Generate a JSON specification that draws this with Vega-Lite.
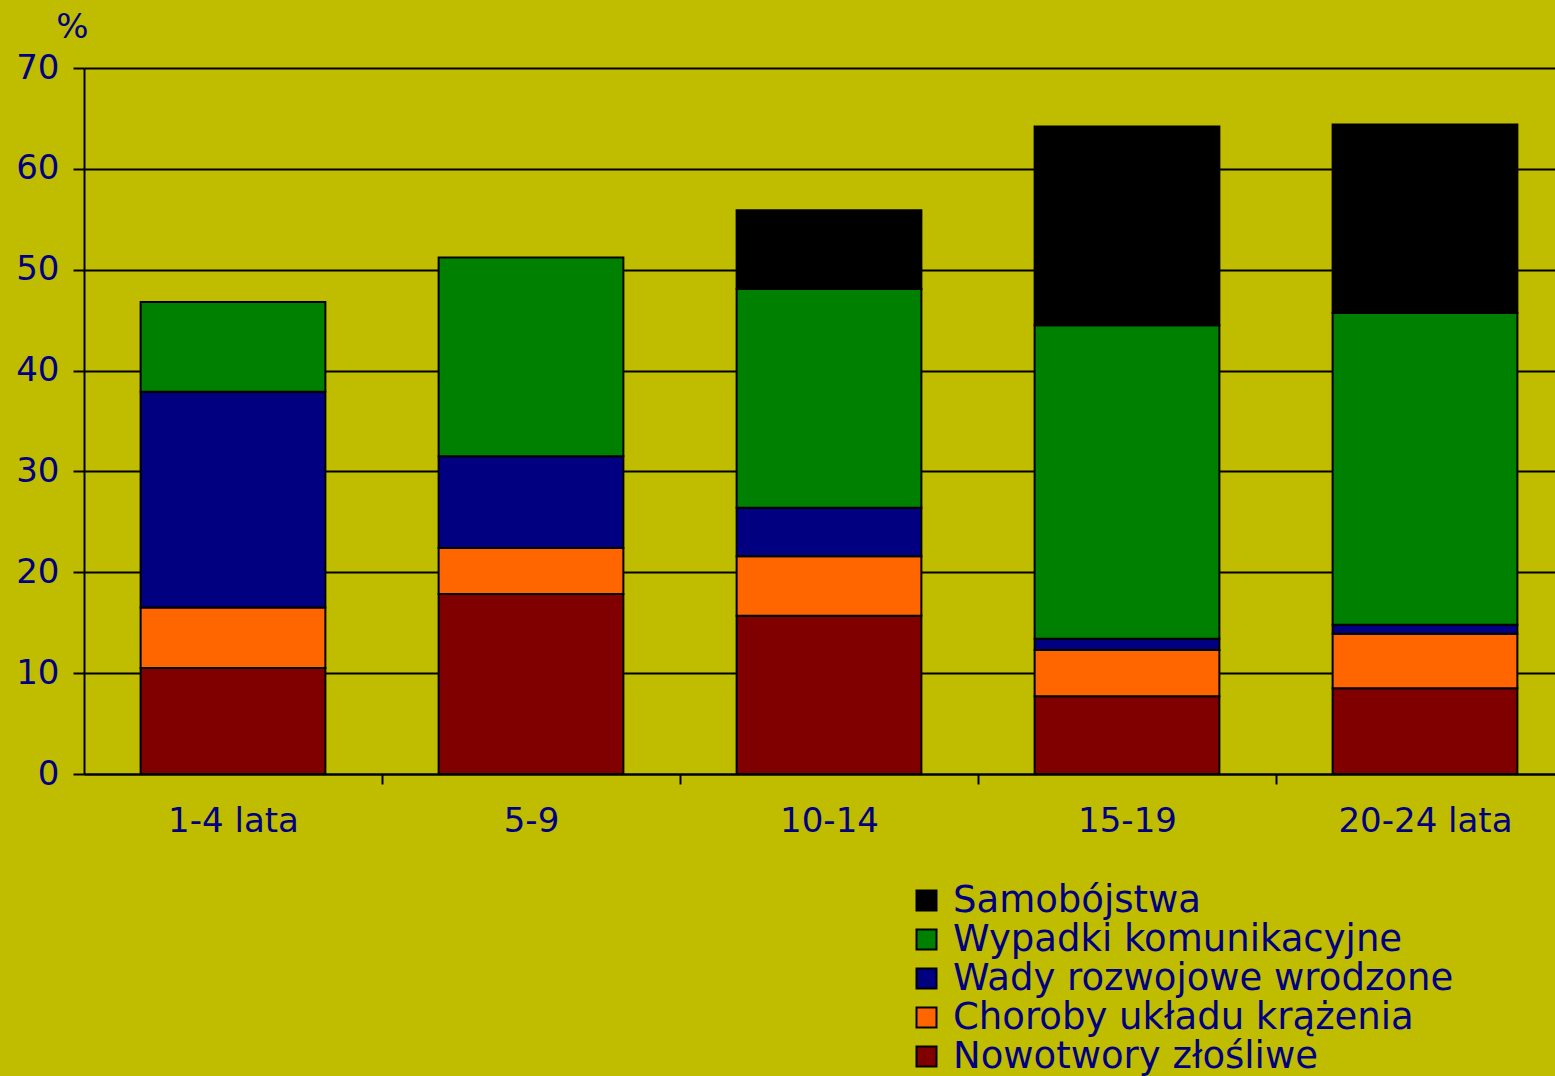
{
  "$schema": "https://vega.github.io/schema/vega-lite/v6.json",
  "autosize": {"type": "none"},
  "width": 1490,
  "height": 706,
  "padding": {"left": 84, "top": 68, "right": 0, "bottom": 302},
  "background": "#C0BC00",
  "config": {
    "view": {"stroke": null},
    "font": "DejaVu Sans"
  },
  "data": {
    "values": [
      {"wiek": "1-4 lata", "przyczyna": "Nowotwory złośliwe", "k": 1, "v": 10.5},
      {"wiek": "1-4 lata", "przyczyna": "Choroby układu krążenia", "k": 2, "v": 6.0},
      {"wiek": "1-4 lata", "przyczyna": "Wady rozwojowe wrodzone", "k": 3, "v": 21.4},
      {"wiek": "1-4 lata", "przyczyna": "Wypadki komunikacyjne", "k": 4, "v": 8.9},
      {"wiek": "5-9", "przyczyna": "Nowotwory złośliwe", "k": 1, "v": 17.85},
      {"wiek": "5-9", "przyczyna": "Choroby układu krążenia", "k": 2, "v": 4.55},
      {"wiek": "5-9", "przyczyna": "Wady rozwojowe wrodzone", "k": 3, "v": 9.1},
      {"wiek": "5-9", "przyczyna": "Wypadki komunikacyjne", "k": 4, "v": 19.7},
      {"wiek": "10-14", "przyczyna": "Nowotwory złośliwe", "k": 1, "v": 15.7},
      {"wiek": "10-14", "przyczyna": "Choroby układu krążenia", "k": 2, "v": 5.9},
      {"wiek": "10-14", "przyczyna": "Wady rozwojowe wrodzone", "k": 3, "v": 4.8},
      {"wiek": "10-14", "przyczyna": "Wypadki komunikacyjne", "k": 4, "v": 21.7},
      {"wiek": "10-14", "przyczyna": "Samobójstwa", "k": 5, "v": 7.8},
      {"wiek": "15-19", "przyczyna": "Nowotwory złośliwe", "k": 1, "v": 7.7},
      {"wiek": "15-19", "przyczyna": "Choroby układu krążenia", "k": 2, "v": 4.6},
      {"wiek": "15-19", "przyczyna": "Wady rozwojowe wrodzone", "k": 3, "v": 1.1},
      {"wiek": "15-19", "przyczyna": "Wypadki komunikacyjne", "k": 4, "v": 31.1},
      {"wiek": "15-19", "przyczyna": "Samobójstwa", "k": 5, "v": 19.7},
      {"wiek": "20-24 lata", "przyczyna": "Nowotwory złośliwe", "k": 1, "v": 8.5},
      {"wiek": "20-24 lata", "przyczyna": "Choroby układu krążenia", "k": 2, "v": 5.4},
      {"wiek": "20-24 lata", "przyczyna": "Wady rozwojowe wrodzone", "k": 3, "v": 0.9},
      {"wiek": "20-24 lata", "przyczyna": "Wypadki komunikacyjne", "k": 4, "v": 30.9},
      {"wiek": "20-24 lata", "przyczyna": "Samobójstwa", "k": 5, "v": 18.7}
    ]
  },
  "mark": {"type": "bar", "stroke": "#000000", "strokeWidth": 2},
  "encoding": {
    "x": {
      "field": "wiek",
      "type": "nominal",
      "sort": ["1-4 lata", "5-9", "10-14", "15-19", "20-24 lata"],
      "scale": {"paddingInner": 0.38, "paddingOuter": 0.19},
      "axis": {
        "title": null,
        "labelAngle": 0,
        "labelFontSize": 34,
        "labelColor": "#000080",
        "labelPadding": 20,
        "tickOffset": 149,
        "labelOffset": -149,
        "tickSize": 10,
        "tickColor": "#000000",
        "tickWidth": 2,
        "domainColor": "#000000",
        "domainWidth": 2,
        "grid": false
      }
    },
    "y": {
      "field": "v",
      "type": "quantitative",
      "stack": "zero",
      "scale": {"domain": [0, 70], "nice": false},
      "axis": {
        "values": [0, 10, 20, 30, 40, 50, 60, 70],
        "title": "%",
        "titleAngle": 0,
        "titleX": -12,
        "titleY": -41,
        "titleAlign": "center",
        "titleBaseline": "middle",
        "titleFontSize": 34,
        "titleFontWeight": "normal",
        "titleColor": "#000080",
        "labelFontSize": 34,
        "labelColor": "#000080",
        "labelPadding": 14,
        "tickSize": 11,
        "tickColor": "#000000",
        "tickWidth": 2,
        "domainColor": "#000000",
        "domainWidth": 2,
        "grid": true,
        "gridColor": "#000000",
        "gridWidth": 2,
        "gridOpacity": 1
      }
    },
    "color": {
      "field": "przyczyna",
      "type": "nominal",
      "scale": {
        "domain": ["Samobójstwa", "Wypadki komunikacyjne", "Wady rozwojowe wrodzone", "Choroby układu krążenia", "Nowotwory złośliwe"],
        "range": ["#000000", "#008000", "#000080", "#FF6600", "#800000"]
      },
      "legend": {
        "title": null,
        "orient": "none",
        "legendX": 824,
        "legendY": 814,
        "padding": 0,
        "symbolType": "square",
        "symbolSize": 400,
        "symbolStrokeColor": "#000000",
        "symbolStrokeWidth": 2,
        "symbolOpacity": 1,
        "labelFontSize": 37,
        "labelColor": "#000080",
        "labelOffset": 8,
        "labelLimit": 800,
        "rowPadding": 1
      }
    },
    "order": {"field": "k", "type": "quantitative", "sort": "ascending"}
  }
}
